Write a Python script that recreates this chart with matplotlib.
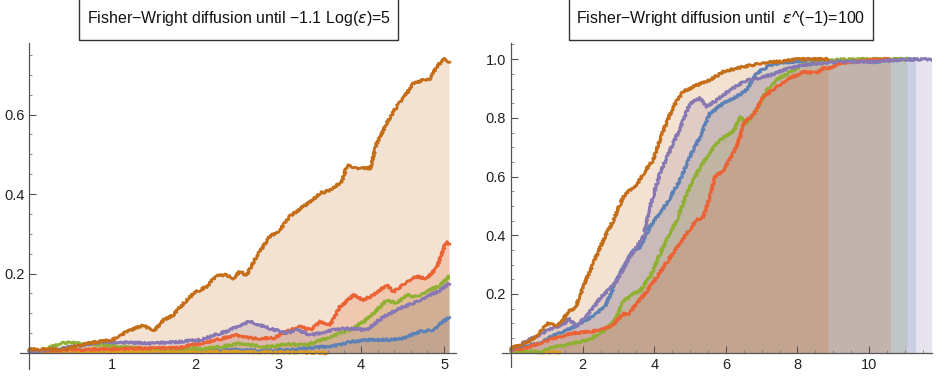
import matplotlib
matplotlib.use("Agg")
import matplotlib.pyplot as plt
from matplotlib.patches import Rectangle
from matplotlib.ticker import MultipleLocator

plt.rcParams['font.family'] = ['Liberation Sans', 'DejaVu Sans']
plt.rcParams['mathtext.fontset'] = 'dejavusans'

# Mathematica default palette (ColorData 97)
series_names = ['blue', 'yellow', 'green', 'red', 'purple', 'darkorange']
colors = ['#5E81B5', '#E19C24', '#8FB032', '#EB6235', '#8778B3', '#C56E1A']

titles = ['Fisher\u2212Wright diffusion until \u22121.1 Log($\\epsilon$)=5',
          'Fisher\u2212Wright diffusion until  $\\epsilon$^(\u22121)=100']

# ---- left panel: paths ----
left_blue_x = [0, 0.5, 1.0, 1.5, 2.0, 2.5, 2.9, 3.18, 3.35, 3.55, 3.75, 3.87, 4.07, 4.35, 4.51, 4.71, 4.87, 5.06]
left_blue_y = [0.005, 0.004, 0.006, 0.005, 0.006, 0.008, 0.006, 0.008, 0.012, 0.016, 0.020, 0.028, 0.033, 0.033, 0.037, 0.054, 0.058, 0.091]

left_yellow_x = [0, 0.5, 1.0, 1.5, 2.0, 2.5, 3.0, 3.3, 3.59]
left_yellow_y = [0.005, 0.004, 0.003, 0.004, 0.003, 0.003, 0.002, 0.001, 0.0]

left_green_x = [0, 0.2, 0.39, 0.6, 0.9, 1.2, 1.5, 1.8, 2.06, 2.3, 2.53, 2.7, 2.86, 3.1, 3.35, 3.63, 3.87, 4.03, 4.15, 4.31, 4.43, 4.55, 4.67, 4.79, 4.95, 5.06]
left_green_y = [0.006, 0.01, 0.026, 0.025, 0.02, 0.014, 0.01, 0.011, 0.011, 0.015, 0.024, 0.02, 0.015, 0.022, 0.020, 0.041, 0.058, 0.079, 0.100, 0.133, 0.125, 0.146, 0.142, 0.154, 0.171, 0.192]

left_red_x = [0, 0.5, 1.0, 1.5, 1.8, 2.06, 2.26, 2.49, 2.70, 2.94, 3.10, 3.27, 3.39, 3.51, 3.63, 3.75, 3.91, 4.03, 4.15, 4.31, 4.39, 4.55, 4.67, 4.79, 4.91, 4.99, 5.02, 5.06]
left_red_y = [0.005, 0.008, 0.010, 0.012, 0.013, 0.024, 0.033, 0.045, 0.037, 0.037, 0.054, 0.066, 0.058, 0.079, 0.071, 0.117, 0.146, 0.133, 0.146, 0.171, 0.154, 0.179, 0.192, 0.188, 0.213, 0.259, 0.28, 0.272]

left_purple_x = [0, 0.3, 0.6, 0.87, 1.2, 1.48, 1.8, 2.06, 2.37, 2.55, 2.66, 2.82, 2.90, 3.10, 3.23, 3.39, 3.67, 3.87, 4.07, 4.27, 4.47, 4.71, 4.95, 5.06]
left_purple_y = [0.003, 0.01, 0.018, 0.028, 0.026, 0.024, 0.028, 0.033, 0.054, 0.07, 0.080, 0.067, 0.062, 0.050, 0.058, 0.045, 0.058, 0.062, 0.058, 0.091, 0.112, 0.133, 0.158, 0.175]

left_dark_x = [0, 0.45, 0.69, 1.0, 1.18, 1.38, 1.50, 1.62, 1.74, 1.86, 1.98, 2.14, 2.26, 2.38, 2.46, 2.54, 2.62, 2.74, 2.90, 3.02, 3.14, 3.27, 3.39, 3.51, 3.63, 3.77, 3.83, 3.95, 4.11, 4.19, 4.31, 4.43, 4.55, 4.63, 4.75, 4.83, 4.91, 5.01, 5.06]
left_dark_y = [0.009, 0.010, 0.024, 0.033, 0.054, 0.070, 0.054, 0.083, 0.096, 0.125, 0.150, 0.167, 0.196, 0.196, 0.188, 0.205, 0.196, 0.242, 0.293, 0.309, 0.343, 0.364, 0.381, 0.402, 0.410, 0.431, 0.473, 0.465, 0.465, 0.527, 0.578, 0.620, 0.653, 0.678, 0.687, 0.689, 0.720, 0.741, 0.730]

# ---- right panel ----
right_blue_x = [0, 0.76, 1.32, 1.79, 2.25, 2.63, 3.04, 3.42, 3.6, 3.88, 4.35, 4.72, 5.0, 5.28, 5.56, 5.93, 6.3, 6.58, 6.86, 7.23, 7.79, 8.5, 9.5, 10.2, 10.6, 11.3]
right_blue_y = [0.01, 0.032, 0.066, 0.089, 0.123, 0.157, 0.270, 0.350, 0.36, 0.429, 0.509, 0.588, 0.668, 0.736, 0.816, 0.85, 0.872, 0.895, 0.952, 0.98, 0.991, 0.995, 0.993, 0.99, 0.997, 1.0]

right_yellow_x = [0, 0.4, 0.8, 1.1, 1.37]
right_yellow_y = [0.004, 0.004, 0.002, 0.002, 0.0]

right_green_x = [0, 0.76, 1.23, 1.70, 2.16, 2.63, 2.9, 3.14, 3.42, 3.6, 3.88, 4.25, 4.63, 4.91, 5.19, 5.47, 5.75, 6.03, 6.21, 6.40, 6.58, 6.86, 7.14, 7.42, 7.79, 8.17, 9.1, 10.0, 11.05]
right_green_y = [0.005, 0.003, 0.020, 0.032, 0.043, 0.077, 0.11, 0.175, 0.202, 0.21, 0.259, 0.361, 0.452, 0.543, 0.611, 0.668, 0.713, 0.742, 0.753, 0.804, 0.782, 0.827, 0.895, 0.929, 0.957, 0.98, 0.998, 1.0, 1.0]

right_red_x = [0, 0.39, 1.04, 1.70, 2.25, 2.81, 3.14, 3.28, 3.51, 3.8, 4.07, 4.53, 4.91, 5.19, 5.37, 5.56, 5.70, 5.93, 6.21, 6.40, 6.49, 6.77, 7.05, 7.42, 7.79, 8.17, 8.54, 8.72, 8.91, 9.19, 10.03, 10.6]
right_red_y = [0.01, 0.015, 0.043, 0.066, 0.072, 0.089, 0.134, 0.128, 0.168, 0.21, 0.259, 0.339, 0.407, 0.452, 0.463, 0.532, 0.600, 0.622, 0.679, 0.736, 0.782, 0.81, 0.872, 0.906, 0.935, 0.957, 0.952, 0.969, 0.969, 0.986, 0.997, 1.0]

right_purple_x = [0, 0.39, 1.04, 1.51, 1.6, 1.83, 2.25, 2.53, 2.91, 3.32, 3.70, 3.88, 4.16, 4.53, 4.81, 5.0, 5.28, 5.47, 5.75, 6.12, 6.58, 6.96, 7.23, 7.61, 8.17, 9.1, 10.03, 10.96, 11.75]
right_purple_y = [0.01, 0.037, 0.077, 0.100, 0.117, 0.090, 0.146, 0.191, 0.236, 0.327, 0.395, 0.497, 0.611, 0.713, 0.79, 0.850, 0.867, 0.838, 0.861, 0.895, 0.929, 0.935, 0.946, 0.963, 0.980, 0.991, 0.991, 0.998, 1.0]

right_dark_x = [0, 0.58, 1.04, 1.28, 1.42, 1.6, 1.79, 2.02, 2.3, 2.58, 2.86, 3.14, 3.32, 3.5, 3.7, 3.97, 4.25, 4.53, 4.81, 5.19, 5.56, 5.93, 6.49, 6.96, 7.42, 7.98, 8.4, 8.86]
right_dark_y = [0.015, 0.043, 0.100, 0.094, 0.106, 0.140, 0.151, 0.225, 0.305, 0.384, 0.452, 0.532, 0.554, 0.57, 0.611, 0.657, 0.755, 0.838, 0.889, 0.912, 0.929, 0.957, 0.974, 0.986, 0.991, 0.999, 1.0, 1.0]

left_series = [(left_blue_x, left_blue_y), (left_yellow_x, left_yellow_y), (left_green_x, left_green_y),
               (left_red_x, left_red_y), (left_purple_x, left_purple_y), (left_dark_x, left_dark_y)]
right_series = [(right_blue_x, right_blue_y), (right_yellow_x, right_yellow_y), (right_green_x, right_green_y),
                (right_red_x, right_red_y), (right_purple_x, right_purple_y), (right_dark_x, right_dark_y)]


def draw_panel(ax, series, xlim, ylim, xmajor, xminor, yticks):
    for (x, y), c in zip(series, colors):
        ax.fill_between(x, 0, y, color=c, alpha=0.2, lw=0)
    for (x, y), c in zip(series, colors):
        line, = ax.plot(x, y, color=c, lw=2.0, solid_joinstyle='round')
        # jagged stroke, like the noisy simulated paths
        line.set_sketch_params(scale=1.1, length=1.2, randomness=2.5)

    ax.set_xlim(*xlim)
    ax.set_ylim(*ylim)
    for s in ['top', 'right']:
        ax.spines[s].set_visible(False)
    ax.spines['left'].set_position(('data', 0))
    ax.spines['bottom'].set_position(('data', 0))
    for s in ['left', 'bottom']:
        ax.spines[s].set_color('#555555')
        ax.spines[s].set_linewidth(0.9)
    ax.xaxis.set_major_locator(MultipleLocator(xmajor))
    ax.xaxis.set_minor_locator(MultipleLocator(xminor))
    ax.set_yticks(yticks)
    ax.yaxis.set_minor_locator(MultipleLocator(0.05))
    ax.set_xticklabels([('%g' % t if t > 0 else '') for t in ax.get_xticks()])
    ax.set_yticklabels(['%.1f' % t for t in yticks])
    ax.tick_params(which='major', direction='in', length=5, width=0.8, color='#555555',
                   labelsize=10.5, labelcolor='#222222')
    ax.tick_params(which='minor', direction='in', length=2.5, width=0.6, color='#777777')
    ax.set_facecolor('none')


fig = plt.figure(figsize=(9.36, 3.84), dpi=100)

ax1 = fig.add_axes([20 / 936, 1 - 368.9 / 384, 436.5 / 936, 325.9 / 384])
draw_panel(ax1, left_series, (-0.11, 5.15), (-0.04, 0.78), 1, 0.2, [0.2, 0.4, 0.6])

ax2 = fig.add_axes([501.7 / 936, 1 - 366.8 / 384, 430 / 936, 323.8 / 384])
draw_panel(ax2, right_series, (-0.26, 11.75), (-0.048, 1.055), 2, 0.5, [0.2, 0.4, 0.6, 0.8, 1.0])

# framed titles
for (x0, x1), t in zip([(79, 398), (569, 873)], titles):
    fig.patches.append(Rectangle((x0 / 936, 1 - 40 / 384), (x1 - x0) / 936, 42 / 384,
                                 transform=fig.transFigure, fill=False,
                                 edgecolor='#333333', lw=1.0))
    fig.text((x0 + x1) / 2 / 936, 1 - 19 / 384, t, ha='center', va='center',
             fontsize=11.5, color='#111111')

fig.savefig('out.png', dpi=100)
